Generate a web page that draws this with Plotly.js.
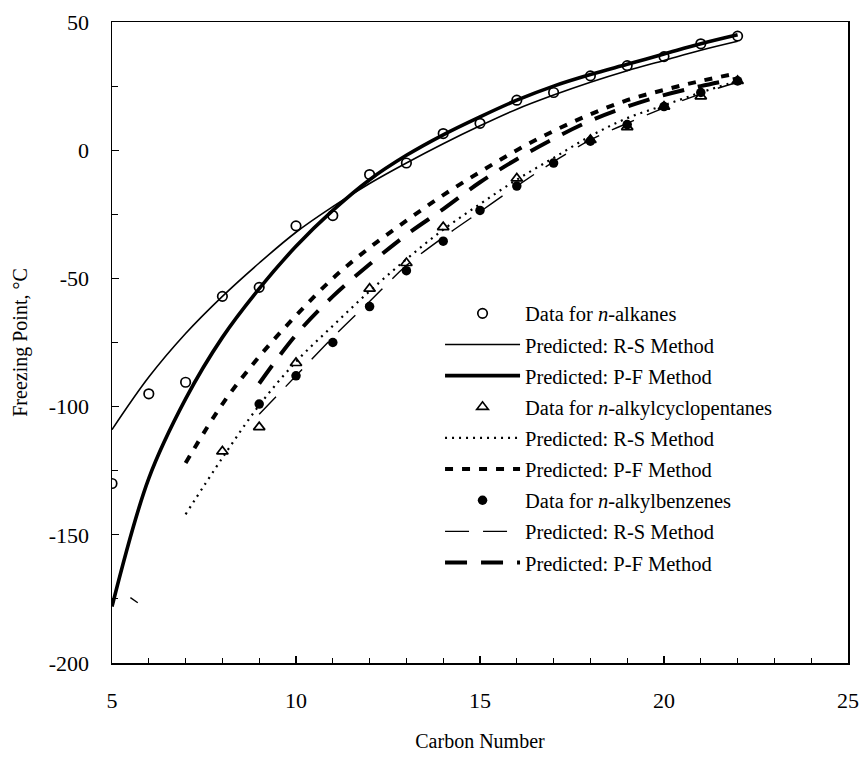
<!DOCTYPE html>
<html>
<head>
<meta charset="utf-8">
<script src="https://cdn.plot.ly/plotly-3.0.1.min.js"></script>
<style>html,body{margin:0;padding:0;background:#fff;}#chart{width:861px;height:765px;}</style>
</head>
<body>
<div id="chart"></div>
<script>
// ---- data ----
const alkN    = [5,6,7,8,9,10,11,12,13,14,15,16,17,18,19,20,21,22];
const alkData = [-130,-95,-90.5,-57,-53.5,-29.5,-25.5,-9.5,-5,6.5,10.5,19.5,22.5,29,33,36.5,41.5,44.5];

const curveN  = [5,6,7,8,9,10,11,12,13,14,15,16,17,18,19,20,21,22];
const alkRS   = [-109,-88.5,-71.5,-57,-44,-32,-22,-13,-5,2.5,9.5,16,21.5,26.5,31,35,39,42.5];
const alkPF   = [-178,-128,-97,-73,-54,-37.5,-23.5,-11.5,-2,6,13,19.5,25,29.5,33.5,37.5,41.5,45];

const cpN     = [8,9,10,12,13,14,16,18,19,20,21,22];
const cpData  = [-117.5,-108,-83,-54,-44,-30,-11,4,9,17,21,27];
const cpCurveN = [7,8,9,10,11,12,13,14,15,16,17,18,19,20,21,22];
const cpRS    = [-142,-120,-99.5,-82.5,-68.5,-55,-42.5,-31,-21,-11.5,-3,5.5,12.5,17.5,22.5,27];
const cpPF    = [-122,-99,-80.5,-64.5,-50,-38,-27.5,-17.5,-8.5,0,7.5,14,19.5,23.5,27,30];

const bzN     = [9,10,11,12,13,14,15,16,17,18,19,20,21,22];
const bzData  = [-99,-88,-75,-61,-47,-35.5,-23.5,-14,-5,3.5,10,17,22.5,27];
const bzRSN   = [5.5,5.7,null,9,10,11,12,13,14,15,16,17,18,19,20,21,22];
const bzRS    = [-174.5,-176.5,null,-103,-88,-73,-59,-45,-34,-24,-14,-4.5,4,10.5,16.5,22,26.5];
const bzPFN   = [9,10,11,12,13,14,15,16,17,18,19,20,21,22];
const bzPF    = [-91,-72,-57,-44.5,-33,-23,-12.5,-3.5,4.5,11.5,17,21.5,25,28];

const yTickVals = [50,0,-50,-100,-150,-200];
const yTickText = ['50','0','-50','-100','-150','-200'];
const xTickVals = [5,10,15,20,25];
const xTickText = ['5','10','15','20','25'];

const names = [
  'Data for <i>n</i>-alkanes',
  'Predicted: R-S Method',
  'Predicted: P-F Method',
  'Data for <i>n</i>-alkylcyclopentanes',
  'Predicted: R-S Method',
  'Predicted: P-F Method',
  'Data for <i>n</i>-alkylbenzenes',
  'Predicted: R-S Method',
  'Predicted: P-F Method'
];

const K = '#000';
let g = 0;
function grp(){ g += 1; return 'g' + g; }

const traces = [
  {x: alkN, y: alkData, mode: 'markers', name: names[0], legendgroup: grp(),
   marker: {symbol: 'circle-open', size: 9.5, color: K, line: {width: 1.7, color: K}}},
  {x: curveN, y: alkRS, mode: 'lines', name: names[1], legendgroup: grp(),
   line: {color: K, width: 1.6, shape: 'spline'}},
  {x: curveN, y: alkPF, mode: 'lines', name: names[2], legendgroup: grp(),
   line: {color: K, width: 3.6, shape: 'spline'}},
  {x: cpN, y: cpData, mode: 'markers', name: names[3], legendgroup: grp(),
   marker: {symbol: 'triangle-up-open', size: 10, color: K, line: {width: 1.7, color: K}}},
  {x: cpCurveN, y: cpRS, mode: 'lines', name: names[4], legendgroup: grp(),
   line: {color: K, width: 2.2, dash: '2px,5px', shape: 'spline'}},
  {x: cpCurveN, y: cpPF, mode: 'lines', name: names[5], legendgroup: grp(),
   line: {color: K, width: 4, dash: '8px,9px', shape: 'spline'}},
  {x: bzN, y: bzData, mode: 'markers', name: names[6], legendgroup: grp(),
   marker: {symbol: 'circle', size: 9.5, color: K}},
  {x: bzRSN, y: bzRS, mode: 'lines', name: names[7], legendgroup: grp(), connectgaps: false,
   line: {color: K, width: 1.4, dash: '24px,14px', shape: 'spline'}},
  {x: bzPFN, y: bzPF, mode: 'lines', name: names[8], legendgroup: grp(),
   line: {color: K, width: 4, dash: '22px,14px', shape: 'spline'}}
];

const FONT = 'Liberation Serif, Times New Roman, serif';

const layout = {
  width: 861, height: 765,
  margin: {l: 112, r: 13, t: 22, b: 102},
  paper_bgcolor: '#fff', plot_bgcolor: '#fff',
  font: {family: FONT, size: 20, color: K},
  showlegend: true,
  legend: {
    x: 0.4457, y: 0.5764, xanchor: 'left', yanchor: 'top',
    bgcolor: 'rgba(0,0,0,0)', borderwidth: 0,
    font: {family: FONT, size: 20.5, color: K},
    itemwidth: 75, tracegroupgap: 1.5, traceorder: 'grouped'
  },
  xaxis: {
    range: [5, 25], tickmode: 'array', tickvals: xTickVals, ticktext: xTickText,
    showgrid: false, zeroline: false,
    showline: true, linecolor: K, linewidth: 1.5, mirror: true,
    ticks: 'inside', ticklen: 7, tickwidth: 1.2, tickcolor: K,
    minor: {tickmode: 'linear', tick0: 5, dtick: 1, ticks: 'inside', ticklen: 5, tickwidth: 1, tickcolor: K, showgrid: false},
    tickfont: {family: FONT, size: 22, color: K},
    ticklabelstandoff: 17,
    title: {text: 'Carbon Number', font: {family: FONT, size: 20, color: K}, standoff: 22}
  },
  yaxis: {
    range: [-200, 50], tickmode: 'array', tickvals: yTickVals, ticktext: yTickText,
    showgrid: false, zeroline: false,
    showline: true, linecolor: K, linewidth: 1.5, mirror: true,
    ticks: 'inside', ticklen: 7, tickwidth: 1.2, tickcolor: K,
    minor: {tickmode: 'linear', tick0: 0, dtick: 25, ticks: 'inside', ticklen: 6, tickwidth: 1, tickcolor: K, showgrid: false},
    tickfont: {family: FONT, size: 22, color: K},
    ticklabelstandoff: 17,
    title: {text: 'Freezing Point, °C', font: {family: FONT, size: 20, color: K}, standoff: 16}
  }
};

Plotly.newPlot('chart', traces, layout, {displayModeBar: false, staticPlot: true});
</script>
</body>
</html>
